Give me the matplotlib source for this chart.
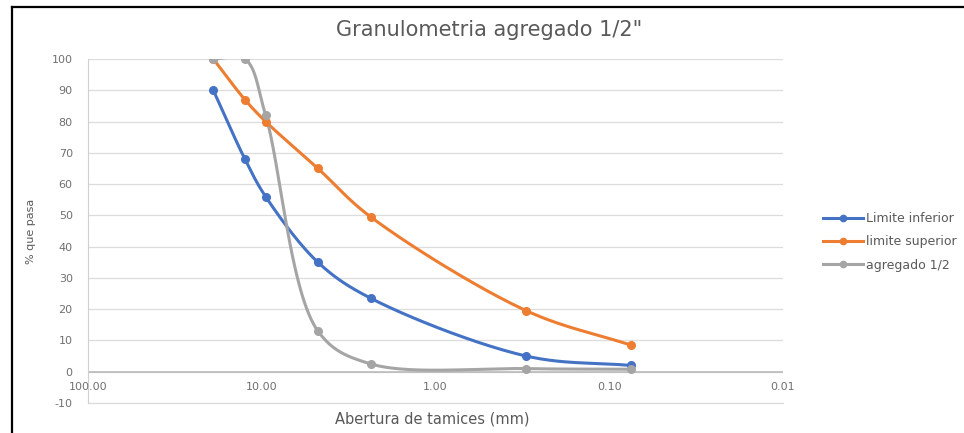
import numpy as np
import matplotlib.pyplot as plt
from matplotlib.lines import Line2D

plt.rcParams['font.family'] = ['DejaVu Sans']

# Abertura de tamices (mm) y % que pasa
abertura = [19.0, 12.5, 9.5, 4.75, 2.36, 0.30, 0.075]
limite_inferior = [90, 68, 56, 35, 23.5, 5, 2]
limite_superior = [100, 87, 80, 65, 49.5, 19.5, 8.5]
agregado = [100, 100, 82, 13, 2.5, 1, 0.8]

y_ticks = list(range(-10, 101, 10))
x_ticks = [100, 10, 1, 0.1, 0.01]
x_tick_labels = ['100.00', '10.00', '1.00', '0.10', '0.01']

AZUL = '#4472C4'
NARANJA = '#ED7D31'
GRIS = '#A5A5A5'
TEXTO = '#707070'

# escala aproximada en pixeles: por decada en x y por unidad en y
PX_DECADA = 173.0
PX_UNIDAD = 3.13


def curva_suave(x, y, pasos=40, alfa=0.5):
    # Catmull-Rom centripeta, calculada en espacio de pantalla (x log)
    P = np.column_stack([np.log10(np.asarray(x, float)) * PX_DECADA,
                         np.asarray(y, float) * PX_UNIDAD])
    P = np.vstack([2 * P[0] - P[1], P, 2 * P[-1] - P[-2]])
    tramos = []
    for i in range(1, len(P) - 2):
        p0, p1, p2, p3 = P[i - 1], P[i], P[i + 1], P[i + 2]
        t0 = 0.0
        t1 = t0 + np.linalg.norm(p1 - p0) ** alfa
        t2 = t1 + np.linalg.norm(p2 - p1) ** alfa
        t3 = t2 + np.linalg.norm(p3 - p2) ** alfa
        t = np.linspace(t1, t2, pasos)[:, None]
        a1 = (t1 - t) / (t1 - t0) * p0 + (t - t0) / (t1 - t0) * p1
        a2 = (t2 - t) / (t2 - t1) * p1 + (t - t1) / (t2 - t1) * p2
        a3 = (t3 - t) / (t3 - t2) * p2 + (t - t2) / (t3 - t2) * p3
        b1 = (t2 - t) / (t2 - t0) * a1 + (t - t0) / (t2 - t0) * a2
        b2 = (t3 - t) / (t3 - t1) * a2 + (t - t1) / (t3 - t1) * a3
        tramos.append((t2 - t) / (t2 - t1) * b1 + (t - t1) / (t2 - t1) * b2)
    c = np.vstack(tramos)
    return 10 ** (c[:, 0] / PX_DECADA), c[:, 1] / PX_UNIDAD


fig = plt.figure(figsize=(9.64, 4.33), dpi=100)
ax = fig.add_axes([88 / 964, 30 / 433, 695 / 964, 344 / 433])

series = [
    ('Limite inferior', limite_inferior, AZUL),
    ('limite superior', limite_superior, NARANJA),
    ('agregado 1/2', agregado, GRIS),
]
handles = []
for nombre, valores, color in series:
    xs, ys = curva_suave(abertura, valores)
    ax.plot(xs, ys, color=color, lw=2.2, zorder=3)
    ax.plot(abertura, valores, 'o', color=color, ms=5.5, zorder=4)
    handles.append(Line2D([], [], color=color, lw=2.2, marker='o', ms=4.5))

ax.set_xscale('log')
ax.set_xlim(100, 0.01)
ax.set_ylim(-10, 100)

ax.set_yticks(y_ticks)
ax.set_yticklabels([str(v) for v in y_ticks])
ax.tick_params(axis='y', length=0, pad=11, labelsize=8, labelcolor=TEXTO)
ax.set_xticks([])
ax.xaxis.set_minor_locator(plt.NullLocator())
ax.yaxis.grid(True, color='#dcdcdc', lw=0.9)
ax.set_axisbelow(True)
ax.axhline(-10, color='#dcdcdc', lw=0.9, clip_on=False, zorder=1)
ax.axhline(0, color='#b5b5b5', lw=1.1, zorder=2)

for s in ['top', 'right', 'bottom']:
    ax.spines[s].set_visible(False)
ax.spines['left'].set_color('#d0d0d0')

# etiquetas del eje x junto a la linea de 0
for xv, lab in zip(x_ticks, x_tick_labels):
    ax.text(xv, -4.8, lab, ha='center', va='center', fontsize=8, color=TEXTO)

fig.text(489 / 964, 1 - 30 / 433, 'Granulometria agregado 1/2"', ha='center', va='center',
         fontsize=15, color='#595959')
fig.text(432 / 964, 1 - 419 / 433, 'Abertura de tamices (mm)', ha='center', va='center',
         fontsize=10.5, color='#595959')
fig.text(31 / 964, 1 - 231 / 433, '% que pasa', ha='center', va='center', rotation=90,
         fontsize=8, color='#595959')

fig.legend(handles, [s[0] for s in series], loc='center left',
           bbox_to_anchor=(823 / 964, 1 - 242 / 433), frameon=False,
           borderpad=0, borderaxespad=0,
           handlelength=3.2, handletextpad=0.25, labelspacing=0.8,
           fontsize=9, labelcolor='#595959')

# marco
fig.add_artist(Line2D([12 / 964, 12 / 964], [0, 1 - 7 / 433], color='black', lw=1.6))
fig.add_artist(Line2D([12 / 964, 1], [1 - 7 / 433, 1 - 7 / 433], color='black', lw=1.6))

fig.savefig('out.png', dpi=100, facecolor='white')
